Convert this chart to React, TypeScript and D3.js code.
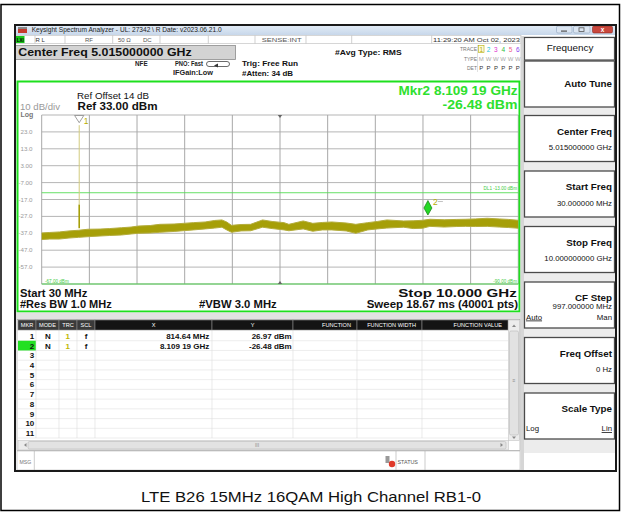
import React from "react";
import * as d3 from "d3";

// ---------- data ----------
const freqMHz = [30, 200, 400, 600, 800, 1000, 1250, 1450, 1700, 1900, 2050, 2300, 2500, 2800, 3200, 3450, 3650, 3800, 3900, 4000, 4200, 4400, 4650, 4850, 5100, 5200, 5500, 5700, 5900, 6100, 6400, 6600, 6850, 7050, 7250, 7600, 7800, 8000, 8150, 8450, 8700, 8900, 9100, 9350, 9600, 9800, 10000];
const traceUpperDbm = [-36.8, -36.5, -36.2, -35.6, -35.2, -34.6, -34.5, -34.2, -33.7, -33.3, -32.7, -32.4, -31.7, -31.5, -30.7, -30.3, -29.4, -29.1, -30.3, -32.3, -31.8, -31.7, -29.1, -30.0, -30.7, -31.7, -29.7, -31.1, -30.6, -30.3, -30.9, -31.7, -30.7, -30.0, -29.1, -29.7, -29.6, -29.3, -28.7, -29.0, -28.8, -28.7, -28.5, -28.1, -28.5, -28.8, -29.3];
const traceLowerDbm = [-40.7, -40.4, -40.4, -39.8, -39.4, -39.0, -38.6, -38.3, -38.0, -37.4, -37.0, -36.8, -36.4, -35.9, -35.0, -34.4, -33.9, -33.4, -35.0, -36.4, -35.6, -35.5, -33.4, -34.2, -35.0, -35.5, -34.4, -35.8, -35.0, -35.0, -35.6, -37.0, -35.0, -34.4, -33.9, -33.4, -34.2, -34.0, -32.9, -33.3, -33.0, -32.9, -33.0, -32.9, -33.3, -33.6, -34.0];
const startMHz = 30;
const stopMHz = 10000;
const refLevelDbm = 33;
const dbPerDiv = 10;
const divisions = 10;
const yTickValues = [23, 13, 3, -7, -17, -27, -37, -47, -57];
const yTickLabels = ["23.0", "13.0", "3.00", "-7.00", "-17.0", "-27.0", "-37.0", "-47.0", "-57.0"];
const markerFreqMHz = [814.64, 8109.19];
const markerDbm = [26.97, -26.48];
const markerXText = ["814.64 MHz", "8.109 19 GHz"];
const markerYText = ["26.97 dBm", "-26.48 dBm"];
const spikeShoulderDbm = -20;
const spikeBaseDbm = -34;
const displayLineDbm = -13;
const centerMHz = 5015;
const tableCols = ["MKR", "MODE", "TRC", "SCL", "X", "Y", "FUNCTION", "FUNCTION WIDTH", "FUNCTION VALUE"];
const tableRows = ["1", "2", "3", "4", "5", "6", "7", "8", "9", "10", "11"];
const softkeyTitles = ["Auto Tune", "Center Freq", "Start Freq", "Stop Freq", "CF Step", "Freq Offset", "Scale Type"];
const softkeyValues = ["", "5.015000000 GHz", "30.000000 MHz", "10.000000000 GHz", "997.000000 MHz", "0 Hz", ""];
const caption = "LTE B26 15MHz 16QAM High Channel RB1-0";

const FONT = "'Liberation Sans', Arial, sans-serif";

export default function App() {
  const gx0 = 41.7, gx1 = 518.3, gy0 = 115, gy1 = 284;
  const x = d3.scaleLinear().domain([startMHz, stopMHz]).range([gx0, gx1]);
  const y = d3.scaleLinear().domain([refLevelDbm - dbPerDiv * divisions, refLevelDbm]).range([gy1, gy0]);
  const pts = freqMHz.map((f, i) => ({ f, hi: traceUpperDbm[i], lo: traceLowerDbm[i] }));
  const area = d3.area<any>().x((d) => x(d.f)).y0((d) => y(d.lo)).y1((d) => y(d.hi));
  const hiLine = d3.line<any>().x((d) => x(d.f)).y((d) => y(d.hi));
  const loLine = d3.line<any>().x((d) => x(d.f)).y((d) => y(d.lo));
  const vGrid = d3.range(divisions + 1).map((i) => startMHz + (i * (stopMHz - startMHz)) / divisions);
  const hGrid = d3.range(divisions + 1).map((i) => refLevelDbm - i * dbPerDiv);

  const colEdges = [18, 36, 59, 77, 95, 212, 293, 357, 422, 508];
  const rowTop = 331, rowH = 9.73;

  const m1x = x(markerFreqMHz[0]);
  const m2x = x(markerFreqMHz[1]);
  const m2y = y(markerDbm[1]);
  const cx = x(centerMHz);

  const skTops = [61, 115.5, 171, 226.5, 282, 337.5, 393];

  const T = (props: any) => <text fontFamily={FONT} {...props} />;

  return (
    <div>
      <style>{`body{margin:0}`}</style>
      <svg width={621} height={512} style={{ display: "block" }}>
        <rect x={0} y={0} width={621} height={512} fill="#fff" />
        <rect x={1} y={4.5} width={618.5} height={506} fill="none" stroke="#000" strokeWidth={1.5} />

        {/* window */}
        <rect x={14} y={25} width={603} height={446} fill="#fff" />
        <defs>
          <linearGradient id="tb" x1="0" y1="0" x2="0" y2="1">
            <stop offset="0" stopColor="#e4edf7" />
            <stop offset="1" stopColor="#c7d7ea" />
          </linearGradient>
        </defs>
        <rect x={15} y={25} width={601} height={10} fill="url(#tb)" />
        <rect x={18} y={27} width={9} height={6} fill="#c63a2e" />
        <rect x={18} y={27} width={9} height={2} fill="#888" />
        <T x={31.7} y={31.5} fontSize={6.3} fill="#222" textLength={190} lengthAdjust="spacingAndGlyphs">Keysight Spectrum Analyzer - UL: 27342 \ R Date: v2023.06.21.0</T>
        <rect x={556.5} y={26} width={15.5} height={7} rx={1.5} fill="#dbe5f1" stroke="#8da3bd" strokeWidth={0.6} />
        <rect x={561} y={30.5} width={6} height={1.2} fill="#555" />
        <rect x={573.5} y={26} width={16.5} height={7} rx={1.5} fill="#dbe5f1" stroke="#8da3bd" strokeWidth={0.6} />
        <rect x={579} y={27.8} width={5} height={3.8} fill="none" stroke="#555" strokeWidth={0.8} />
        <rect x={592.5} y={26} width={20} height={7} rx={1.5} fill="#c9473c" stroke="#8a2a22" strokeWidth={0.6} />
        <T x={602.5} y={32.2} fontSize={6.5} fontWeight="bold" fill="#fff" textAnchor="middle">x</T>

        {/* status row */}
        <rect x={15} y={35.5} width={506} height={8} fill="#fff" stroke="#bbb" strokeWidth={0.6} />
        {[35, 65, 112.7, 160, 208.3, 255, 306, 351.7, 431.7].map((v, i) => (
          <line key={i} x1={v} x2={v} y1={35.5} y2={43.5} stroke="#bbb" strokeWidth={0.7} />
        ))}
        <rect x={16} y={36} width={8.5} height={7} fill="#19c819" />
        <T x={20.2} y={41.8} fontSize={4.5} fontWeight="bold" textAnchor="middle" fill="#000">LXI</T>
        <T x={35.5} y={41.8} fontSize={6} fill="#333">R L</T>
        <T x={85} y={41.8} fontSize={6} fill="#555">RF</T>
        <T x={118} y={41.8} fontSize={6} fill="#555">50 Ω</T>
        <T x={143} y={41.8} fontSize={6} fill="#555">DC</T>
        <T x={261.7} y={41.8} fontSize={6} fill="#555" textLength={40} lengthAdjust="spacingAndGlyphs">SENSE:INT</T>
        <T x={433} y={41.8} fontSize={6} fill="#333" textLength={87} lengthAdjust="spacingAndGlyphs">11:29:20 AM Oct 02, 2023</T>

        {/* center freq box */}
        <rect x={15.5} y={45.5} width={220} height={14} fill="#d3d3d3" stroke="#8c8c8c" strokeWidth={0.8} />
        <T x={18.3} y={56} fontSize={11.5} fontWeight="bold" fill="#111" textLength={173.4} lengthAdjust="spacingAndGlyphs">Center Freq 5.015000000 GHz</T>

        <T x={135} y={66} fontSize={6.3} fontWeight="bold" fill="#222">NFE</T>
        <T x={175} y={66} fontSize={6.3} fontWeight="bold" fill="#222" textLength={28} lengthAdjust="spacingAndGlyphs">PNO: Fast</T>
        <T x={173} y={75} fontSize={6.3} fontWeight="bold" fill="#222" textLength={40} lengthAdjust="spacingAndGlyphs">IFGain:Low</T>
        <path d="M209,61.5 h18 a2.5,2.5 0 0 1 0,5 h-18 a2.5,2.5 0 0 1 0,-5 z" fill="none" stroke="#444" strokeWidth={0.8} />
        <path d="M214,65.5 l4,-2 l0,4 z" fill="#333" />
        <T x={242} y={66} fontSize={8} fontWeight="bold" fill="#111" textLength={56} lengthAdjust="spacingAndGlyphs">Trig: Free Run</T>
        <T x={242} y={75.5} fontSize={8} fontWeight="bold" fill="#111" textLength={51} lengthAdjust="spacingAndGlyphs">#Atten: 34 dB</T>
        <T x={335} y={54.5} fontSize={7.8} fontWeight="bold" fill="#111" textLength={66.7} lengthAdjust="spacingAndGlyphs">#Avg Type: RMS</T>

        {/* trace/type/det block */}
        <T x={477} y={51} fontSize={5} fill="#777" textAnchor="end">TRACE</T>
        <T x={477} y={61} fontSize={5} fill="#777" textAnchor="end">TYPE</T>
        <T x={477} y={70} fontSize={5} fill="#777" textAnchor="end">DET</T>
        <rect x={478.5} y={45.5} width={5.5} height={7} fill="#fffbe0" stroke="#b5ad00" strokeWidth={0.6} />
        {["1", "2", "3", "4", "5", "6"].map((s, i) => (
          <T key={s} x={481.3 + i * 7.3} y={51.5} fontSize={6.5} textAnchor="middle" fill={["#b5ad00", "#22c5d8", "#e030d0", "#30c040", "#f0608a", "#8a40f0"][i]}>{s}</T>
        ))}
        {["M", "W", "W", "W", "W", "W"].map((s, i) => (
          <T key={i} x={481.3 + i * 7.3} y={61} fontSize={6} textAnchor="middle" fill="#aaa">{s}</T>
        ))}
        {["P", "P", "P", "P", "P", "P"].map((s, i) => (
          <T key={i} x={481.3 + i * 7.3} y={70} fontSize={6} textAnchor="middle" fill="#333">{s}</T>
        ))}
        <line x1={477.5} x2={477.5} y1={45} y2={72} stroke="#ccc" strokeWidth={0.6} />

        {/* measurement display */}
        <rect x={17.5} y={81.5} width={502} height={230} fill="#fff" />
        <T x={77} y={99.3} fontSize={8.8} fill="#111" textLength={72} lengthAdjust="spacingAndGlyphs">Ref Offset 14 dB</T>
        <T x={20} y={110} fontSize={8.8} fill="#999" textLength={40} lengthAdjust="spacingAndGlyphs">10 dB/div</T>
        <T x={77.5} y={110} fontSize={11} fontWeight="bold" fill="#111" textLength={80} lengthAdjust="spacingAndGlyphs">Ref 33.00 dBm</T>
        <T x={20.5} y={117} fontSize={7} fontWeight="bold" fill="#777">Log</T>
        <T x={517.5} y={95} fontSize={13} fontWeight="bold" fill="#2ee02e" textAnchor="end" textLength={119} lengthAdjust="spacingAndGlyphs">Mkr2 8.109 19 GHz</T>
        <T x={517.5} y={108.5} fontSize={13} fontWeight="bold" fill="#2ee02e" textAnchor="end" textLength={75} lengthAdjust="spacingAndGlyphs">-26.48 dBm</T>

        {/* grid */}
        {hGrid.map((v, i) => (
          <line key={"h" + i} x1={gx0} x2={gx1} y1={y(v)} y2={y(v)} stroke="#b5b5b5" strokeWidth={1} />
        ))}
        {vGrid.map((v, i) => (
          <line key={"v" + i} x1={x(v)} x2={x(v)} y1={gy0} y2={gy1} stroke="#a8a8a8" strokeWidth={1} />
        ))}
        <line x1={gx0} x2={gx1} y1={gy1} y2={gy1} stroke="#4fcf4f" strokeWidth={1} />
        {yTickValues.map((v, i) => (
          <T key={"yt" + i} x={32.5} y={y(v) + 2} fontSize={6.2} fill="#9a9a9a" textAnchor="end">{yTickLabels[i]}</T>
        ))}
        {/* center markers */}
        <path d={`M${cx - 2.2},${gy0} L${cx + 2.2},${gy0} L${cx},${gy0 + 3} Z`} fill="#666" />
        <path d={`M${cx - 2.2},${gy1} L${cx + 2.2},${gy1} L${cx},${gy1 - 3} Z`} fill="#666" />

        {/* display line */}
        <line x1={gx0} x2={gx1} y1={y(displayLineDbm)} y2={y(displayLineDbm)} stroke="#55dd55" strokeWidth={0.9} />
        <T x={517} y={y(displayLineDbm) - 2.5} fontSize={4.6} fill="#44cc44" textAnchor="end">DL1 -13.00 dBm</T>
        <T x={517} y={gy1 - 1.5} fontSize={4.6} fill="#44cc44" textAnchor="end">-90.00 dBm</T>
        <T x={45} y={gy1 - 1.5} fontSize={4.6} fill="#44cc44">-67.00 dBm</T>

        {/* trace */}
        <path d={area(pts) || ""} fill="#a69f08" />
        <path d={hiLine(pts) || ""} fill="none" stroke="#b4ad3c" strokeWidth={1} />
        <path d={loLine(pts) || ""} fill="none" stroke="#b4ad3c" strokeWidth={1} />
        <line x1={m1x} x2={m1x} y1={y(markerDbm[0])} y2={y(spikeShoulderDbm)} stroke="#d2cb7e" strokeWidth={1} />
        <line x1={m1x} x2={m1x} y1={y(spikeShoulderDbm)} y2={y(spikeBaseDbm)} stroke="#a69f08" strokeWidth={1.6} />

        {/* markers */}
        <path d={`M${m1x - 4.6},${gy0 + 0.5} L${m1x + 4.6},${gy0 + 0.5} L${m1x},${y(markerDbm[0]) - 2.5} Z`} fill="#fff" stroke="#888" strokeWidth={0.8} />
        <T x={m1x + 4.5} y={123.5} fontSize={8.5} fill="#b5ad00">1</T>
        <path d={`M${m2x},${m2y - 15} L${m2x + 4},${m2y - 7.5} L${m2x},${m2y - 0.5} L${m2x - 4},${m2y - 7.5} Z`} fill="#24d824" stroke="#127a12" strokeWidth={0.7} />
        <T x={m2x + 5} y={m2y - 11} fontSize={8.5} fill="#b5ad00">2</T>
        <line x1={m2x + 10} x2={m2x + 15} y1={m2y - 14} y2={m2y - 14} stroke="#999" strokeWidth={0.6} />

        {/* green frame */}
        <rect x={17.5} y={81.5} width={502} height={230} fill="none" stroke="#1ee01e" strokeWidth={2} />

        <T x={20} y={296.7} fontSize={10} fontWeight="bold" fill="#111" textLength={67.3} lengthAdjust="spacingAndGlyphs">Start 30 MHz</T>
        <T x={516.7} y={296.7} fontSize={10} fontWeight="bold" fill="#111" textAnchor="end" textLength={118.4} lengthAdjust="spacingAndGlyphs">Stop 10.000 GHz</T>
        <T x={20} y={307.5} fontSize={10} fontWeight="bold" fill="#111" textLength={91.7} lengthAdjust="spacingAndGlyphs">#Res BW 1.0 MHz</T>
        <T x={199} y={307.5} fontSize={10} fontWeight="bold" fill="#111" textLength={77.7} lengthAdjust="spacingAndGlyphs">#VBW 3.0 MHz</T>
        <T x={518} y={307.5} fontSize={10} fontWeight="bold" fill="#111" textAnchor="end" textLength={151.3} lengthAdjust="spacingAndGlyphs">Sweep  18.67 ms (40001 pts)</T>

        {/* gray separators */}
        <rect x={16} y={312.5} width={505} height={6.5} fill="#e2e2e2" />
        <rect x={520.5} y={36} width={3.5} height={435} fill="#d6d6d6" />

        {/* marker table */}
        <rect x={17} y={319.5} width={503} height={131} fill="#fff" stroke="#999" strokeWidth={0.6} />
        {tableCols.map((c, i) => (
          <g key={c}>
            <rect x={colEdges[i]} y={320} width={colEdges[i + 1] - colEdges[i]} height={10} fill={i < 4 ? "#3a3a3a" : "#141414"} stroke="#8a8a8a" strokeWidth={0.6} />
            <T x={i < 4 ? (colEdges[i] + colEdges[i + 1]) / 2 : i >= 6 ? colEdges[i + 1] - 6 : (colEdges[i] + colEdges[i + 1]) / 2} y={327.3} fontSize={5.6} fill="#fff" textAnchor={i >= 6 ? "end" : "middle"}>{c}</T>
          </g>
        ))}
        {tableRows.map((r, i) => (
          <g key={r}>
            <line x1={colEdges[0]} x2={508} y1={rowTop + (i + 1) * rowH} y2={rowTop + (i + 1) * rowH} stroke="#e0e0e0" strokeWidth={0.6} />
            {i === 1 && <rect x={18} y={rowTop + i * rowH} width={18} height={rowH} fill="#22e022" />}
            <T x={34.3} y={rowTop + i * rowH + 7.8} fontSize={8} fontWeight="bold" fill="#111" textAnchor="end">{r}</T>
          </g>
        ))}
        {colEdges.slice(1, -1).map((v, i) => (
          <line key={"c" + i} x1={v} x2={v} y1={330} y2={rowTop + tableRows.length * rowH} stroke="#dcdcdc" strokeWidth={0.6} />
        ))}
        {markerXText.map((s, i) => (
          <g key={"mr" + i}>
            <T x={48} y={rowTop + i * rowH + 7.8} fontSize={8} fontWeight="bold" fill="#111" textAnchor="middle">N</T>
            <T x={67.7} y={rowTop + i * rowH + 7.8} fontSize={8} fontWeight="bold" fill="#c0b800" textAnchor="middle">1</T>
            <T x={86} y={rowTop + i * rowH + 7.8} fontSize={8} fontWeight="bold" fill="#111" textAnchor="middle">f</T>
            <T x={209.3} y={rowTop + i * rowH + 7.8} fontSize={8} fontWeight="bold" fill="#111" textAnchor="end">{s}</T>
            <T x={291.7} y={rowTop + i * rowH + 7.8} fontSize={8} fontWeight="bold" fill="#111" textAnchor="end">{markerYText[i]}</T>
          </g>
        ))}
        {/* vertical scrollbar */}
        <rect x={508.5} y={320} width={11} height={120.5} fill="#ececec" stroke="#bbb" strokeWidth={0.5} />
        <rect x={509.5} y={331} width={9} height={104} rx={1.5} fill="#e2e2e2" stroke="#b0b0b0" strokeWidth={0.5} />
        <path d="M512,327 l2,-2.5 l2,2.5 z" fill="#888" />
        <path d="M512,436.5 l2,2.5 l2,-2.5 z" fill="#888" />
        <T x={514} y={382} fontSize={5} fill="#888" textAnchor="middle">≡</T>
        {/* horizontal scrollbar */}
        <rect x={18} y={440.5} width={490.5} height={9.5} fill="#ececec" stroke="#bbb" strokeWidth={0.5} />
        <rect x={28} y={441.5} width={478} height={7.5} rx={1.5} fill="#e2e2e2" stroke="#b0b0b0" strokeWidth={0.5} />
        <path d="M24,445 l2.5,-2 l0,4 z" fill="#888" />
        <path d="M503,445 l-2.5,-2 l0,4 z" fill="#888" />
        <T x={257} y={447} fontSize={5} fill="#888" textAnchor="middle">III</T>

        {/* message row */}
        <rect x={17} y={451} width={503} height={19} fill="#fff" stroke="#aaa" strokeWidth={0.5} />
        <line x1={34.3} x2={34.3} y1={451} y2={470} stroke="#aaa" strokeWidth={0.6} />
        <T x={19.5} y={463.5} fontSize={5.2} fill="#777">MSG</T>
        <line x1={396} x2={396} y1={451} y2={470} stroke="#aaa" strokeWidth={0.6} />
        <line x1={425} x2={425} y1={451} y2={470} stroke="#aaa" strokeWidth={0.6} />
        <rect x={385.5} y={456} width={4} height={7} fill="#999" />
        <circle cx={392} cy={464} r={3.2} fill="#e03a2a" />
        <T x={397.5} y={463.5} fontSize={5.4} fill="#555">STATUS</T>

        {/* softkeys */}
        <rect x={524} y={36} width={92} height={417} fill="#ececec" />
        <rect x={524.5} y={37.5} width={90} height={22.5} fill="#fff" stroke="#4a4a4a" strokeWidth={1.2} />
        <T x={570} y={51} fontSize={8.6} fill="#111" textAnchor="middle" textLength={46.7} lengthAdjust="spacingAndGlyphs">Frequency</T>
        {softkeyTitles.map((s, i) => {
          const t = skTops[i];
          return (
            <g key={s}>
              <rect x={524.5} y={t} width={90} height={46} fill="#fff" stroke="#4a4a4a" strokeWidth={1.3} />
              <T x={612} y={i === 0 ? t + 25.5 : t + 19} fontSize={9.8} fontWeight="bold" fill="#111" textAnchor="end">{s}</T>
              {softkeyValues[i] && (
                <T x={612} y={i === 4 ? t + 26.5 : t + 34.5} fontSize={7.8} fill="#111" textAnchor="end">{softkeyValues[i]}</T>
              )}
              {i === 4 && (
                <g>
                  <T x={526} y={t + 37.5} fontSize={7.8} fill="#111" textDecoration="underline">Auto</T>
                  <T x={612} y={t + 37.5} fontSize={7.8} fill="#111" textAnchor="end">Man</T>
                </g>
              )}
              {i === 6 && (
                <g>
                  <T x={526} y={t + 38} fontSize={7.8} fill="#111">Log</T>
                  <T x={612} y={t + 38} fontSize={7.8} fill="#111" textAnchor="end" textDecoration="underline">Lin</T>
                </g>
              )}
            </g>
          );
        })}

        {/* window frame */}
        <rect x={15} y={25} width={601} height={446} fill="none" stroke="#1a1a1a" strokeWidth={2} />

        {/* caption */}
        <T x={311} y={502} fontSize={15} fill="#111" textAnchor="middle" textLength={340} lengthAdjust="spacingAndGlyphs">{caption}</T>
      </svg>
    </div>
  );
}
